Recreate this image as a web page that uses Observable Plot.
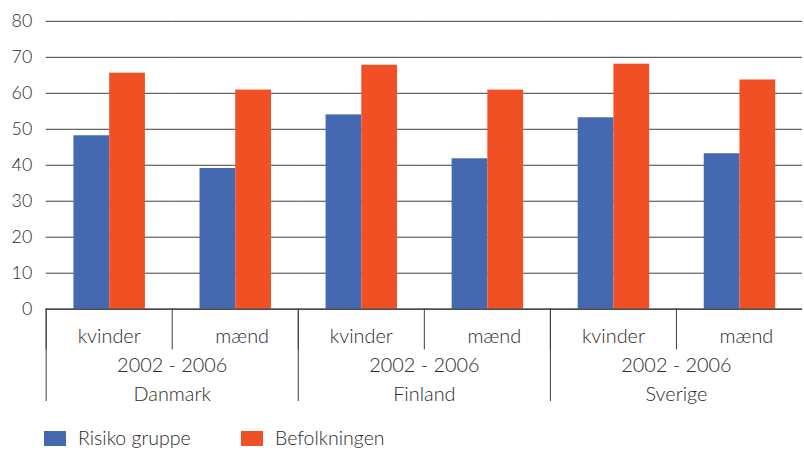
<!DOCTYPE html>
<html>
<head>
<meta charset="utf-8">
<script src="https://cdn.jsdelivr.net/npm/d3@7"></script>
<script src="https://cdn.jsdelivr.net/npm/@observablehq/plot@0.6"></script>
<style>
  body { margin: 0; background: #fff; }
  #wrap { position: relative; width: 804px; height: 451px; overflow: hidden; font-family: Lato, "DejaVu Sans", sans-serif; font-weight: 300; color: #2a2a2a; }
  #chart { position: absolute; left: 0; top: 0; }
  .legend { position: absolute; top: 427px; left: 0; height: 22px; width: 804px; }
  .item { position: absolute; top: 0; display: flex; align-items: center; font-size: 19.5px; line-height: 22px; }
  .sw { width: 22px; height: 15px; margin-right: 12px; }
</style>
</head>
<body>
<div id="wrap">
  <div id="chart"></div>
  <div class="legend" id="legend"></div>
</div>
<script>
const countries = ["Danmark", "Finland", "Sverige"];
const sexes = ["kvinder", "mænd"];
const period = "2002 - 2006";
const series = ["Risiko gruppe", "Befolkningen"];
// values in category order: Danmark kvinder, Danmark mænd, Finland kvinder, Finland mænd, Sverige kvinder, Sverige mænd
const risikoGruppe = [48.2, 39.1, 54.0, 41.8, 53.2, 43.2];
const befolkningen = [65.6, 60.9, 67.8, 60.9, 68.1, 63.7];
const yTicks = [0, 10, 20, 30, 40, 50, 60, 70, 80];
const colors = ["#4469b0", "#f05024"];

const cats = countries.flatMap(c => sexes.map(s => ({country: c, sex: s, key: c + "|" + s})));
const keys = cats.map(c => c.key);
const rows = cats.flatMap((c, i) => [
  {...c, series: series[0], value: risikoGruppe[i]},
  {...c, series: series[1], value: befolkningen[i]}
]);
const firstOfCountry = cats.filter(c => c.sex === sexes[0]);
const secondOfCountry = cats.filter(c => c.sex === sexes[1]);

const ink = "#2a2a2a";
const lineColor = "#3c3c3c";
const labelSize = 20;

const chart = Plot.plot({
  width: 810,
  height: 415,
  marginTop: 21,
  marginBottom: 104,
  marginLeft: 44,
  marginRight: 1,
  style: {fontFamily: "Lato, 'DejaVu Sans', sans-serif", fontSize: "18px", fontWeight: 300, color: ink, background: "transparent", overflow: "visible"},
  fx: {domain: keys, paddingInner: 0, paddingOuter: 0, axis: null},
  x: {domain: series, paddingInner: 0, paddingOuter: 0.723, axis: null},
  y: {domain: [0, 80], axis: null},
  color: {domain: series, range: colors},
  marks: [
    Plot.gridY(yTicks, {stroke: lineColor, strokeOpacity: 1, strokeWidth: 1}),
    Plot.axisY(yTicks, {tickSize: 0, tickPadding: 14, fontSize: 18, fill: ink, label: null}),
    Plot.barY(rows, {fx: "key", x: "series", y: "value", fill: "series", inset: 0}),
    Plot.ruleY([0], {stroke: lineColor, strokeWidth: 1.2}),
    Plot.frame({anchor: "left", insetTop: 290, insetBottom: -40, stroke: lineColor}),
    ...firstOfCountry.map(c => Plot.frame({anchor: "left", insetTop: 290, insetBottom: -92, stroke: lineColor, fx: [c.key]})),
    Plot.text(firstOfCountry, {fx: "key", text: "sex", frameAnchor: "bottom", dy: 28, lineAnchor: "middle", fontSize: labelSize, fill: ink}),
    Plot.text(secondOfCountry, {fx: "key", text: "sex", frameAnchor: "bottom", dx: 7, dy: 28, lineAnchor: "middle", fontSize: labelSize, fill: ink}),
    Plot.text(firstOfCountry, {fx: "key", text: () => period, frameAnchor: "bottom-right", textAnchor: "middle", dy: 57, lineAnchor: "middle", fontSize: labelSize, fill: ink}),
    Plot.text(firstOfCountry, {fx: "key", text: "country", frameAnchor: "bottom-right", textAnchor: "middle", dy: 86, lineAnchor: "middle", fontSize: labelSize, fill: ink})
  ]
});
document.getElementById("chart").appendChild(chart);

const legend = document.getElementById("legend");
const legendLeft = [44, 241];
series.forEach((s, i) => {
  const item = document.createElement("div");
  item.className = "item";
  item.style.left = legendLeft[i] + "px";
  const sw = document.createElement("span");
  sw.className = "sw";
  sw.style.background = colors[i];
  const t = document.createElement("span");
  t.textContent = s;
  item.appendChild(sw);
  item.appendChild(t);
  legend.appendChild(item);
});
</script>
</body>
</html>
